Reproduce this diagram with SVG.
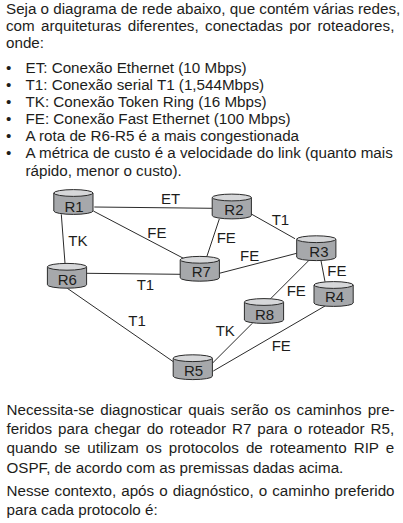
<svg xmlns="http://www.w3.org/2000/svg" width="403" height="523" viewBox="0 0 403 523">
<defs>
<style>
text{font-family:"Liberation Sans",Arial,sans-serif;fill:#1d1d1b}
.p{font-size:15.2px}
.l{font-size:15px}
.n{font-size:15px}
.body{fill:#a6a8ab;stroke:#2b2b2b;stroke-width:1}
.top{fill:#d6d7d9;stroke:#2b2b2b;stroke-width:1}
#connectors line{stroke:#2b2b2b;stroke-width:1}
</style>
<g id="cyl">
<path class="body" d="M-19.6 -9V9A19.6 3.4 0 0 0 19.6 9V-9Z"/>
<ellipse class="top" cx="0" cy="-9" rx="19.6" ry="3.4"/>
</g>
</defs>
<rect width="403" height="523" fill="#fff"/>
<g id="text-top">
<text x="6" y="14" class="p">Seja o diagrama de rede abaixo, que contém várias redes,</text>
<text x="6" y="31" class="p" word-spacing="2.2">com arquiteturas diferentes, conectadas por roteadores,</text>
<text x="6" y="48" class="p">onde:</text>
<text x="6" y="73" class="p">•</text><text x="25.5" y="73" class="p">ET: Conexão Ethernet (10 Mbps)</text>
<text x="6" y="90" class="p">•</text><text x="25.5" y="90" class="p">T1: Conexão serial T1 (1,544Mbps)</text>
<text x="6" y="107" class="p">•</text><text x="25.5" y="107" class="p">TK: Conexão Token Ring (16 Mbps)</text>
<text x="6" y="124" class="p">•</text><text x="25.5" y="124" class="p">FE: Conexão Fast Ethernet (100 Mbps)</text>
<text x="6" y="141" class="p">•</text><text x="25.5" y="141" class="p">A rota de R6-R5 é a mais congestionada</text>
<text x="6" y="158" class="p">•</text><text x="25.5" y="158" class="p">A métrica de custo é a velocidade do link (quanto mais</text>
<text x="25.5" y="176" class="p">rápido, menor o custo).</text>
</g>
<g id="connectors">
<line x1="94.3" y1="207" x2="212.3" y2="208.3"/>
<line x1="93.3" y1="211" x2="186.7" y2="260"/>
<line x1="61.3" y1="214.3" x2="65" y2="263.3"/>
<line x1="219.3" y1="219" x2="205.7" y2="260"/>
<line x1="251.3" y1="214" x2="295" y2="238.7"/>
<line x1="296.7" y1="253.3" x2="219.3" y2="273.3"/>
<line x1="86.7" y1="273.3" x2="180.3" y2="274.3"/>
<line x1="321" y1="260.7" x2="325" y2="281.7"/>
<line x1="309.3" y1="260" x2="270" y2="299.3"/>
<line x1="252.3" y1="323.3" x2="212.3" y2="363.3"/>
<line x1="325" y1="306" x2="213.3" y2="371"/>
<line x1="67.3" y1="288.3" x2="173.3" y2="361.7"/>
</g>
<g id="R1"><use href="#cyl" x="73.4" y="202"/><text class="n" x="64.5" y="212">R1</text></g>
<g id="R2"><use href="#cyl" x="231.8" y="206.5"/><text class="n" x="224.3" y="215">R2</text></g>
<g id="R3"><use href="#cyl" x="316.3" y="248.2"/><text class="n" x="309.3" y="257.3">R3</text></g>
<g id="R4"><use href="#cyl" x="333.6" y="294"/><text class="n" x="325" y="301.7">R4</text></g>
<g id="R5"><use href="#cyl" x="192.8" y="367.2"/><text class="n" x="184" y="375.7">R5</text></g>
<g id="R6"><use href="#cyl" x="67" y="275.8"/><text class="n" x="57.7" y="285">R6</text></g>
<g id="R7"><use href="#cyl" x="199.8" y="268.8"/><text class="n" x="191.7" y="277">R7</text></g>
<g id="R8"><use href="#cyl" x="264" y="311"/><text class="n" x="255" y="320">R8</text></g>
<g id="labels">
<text class="l" x="161" y="203.5">ET</text>
<text class="l" x="147.3" y="238.3">FE</text>
<text class="l" x="68.3" y="245.7">TK</text>
<text class="l" x="216.7" y="243">FE</text>
<text class="l" x="271.7" y="224.7">T1</text>
<text class="l" x="240" y="261">FE</text>
<text class="l" x="327.3" y="276">FE</text>
<text class="l" x="136.7" y="290">T1</text>
<text class="l" x="286.7" y="296">FE</text>
<text class="l" x="128.3" y="326">T1</text>
<text class="l" x="215.7" y="336">TK</text>
<text class="l" x="271.7" y="351">FE</text>
</g>
<g id="text-bottom">
<text x="6.5" y="415" class="p" word-spacing="1.8">Necessita-se diagnosticar quais serão os caminhos pre-</text>
<text x="6.5" y="434" class="p" word-spacing="1.7">feridos para chegar do roteador R7 para o roteador R5,</text>
<text x="6.5" y="453" class="p" word-spacing="2.8">quando se utilizam os protocolos de roteamento RIP e</text>
<text x="6.5" y="473" class="p">OSPF, de acordo com as premissas dadas acima.</text>
<text x="6.5" y="496" class="p" word-spacing="0.8">Nesse contexto, após o diagnóstico, o caminho preferido</text>
<text x="6.5" y="515" class="p">para cada protocolo é:</text>
</g>
</svg>
